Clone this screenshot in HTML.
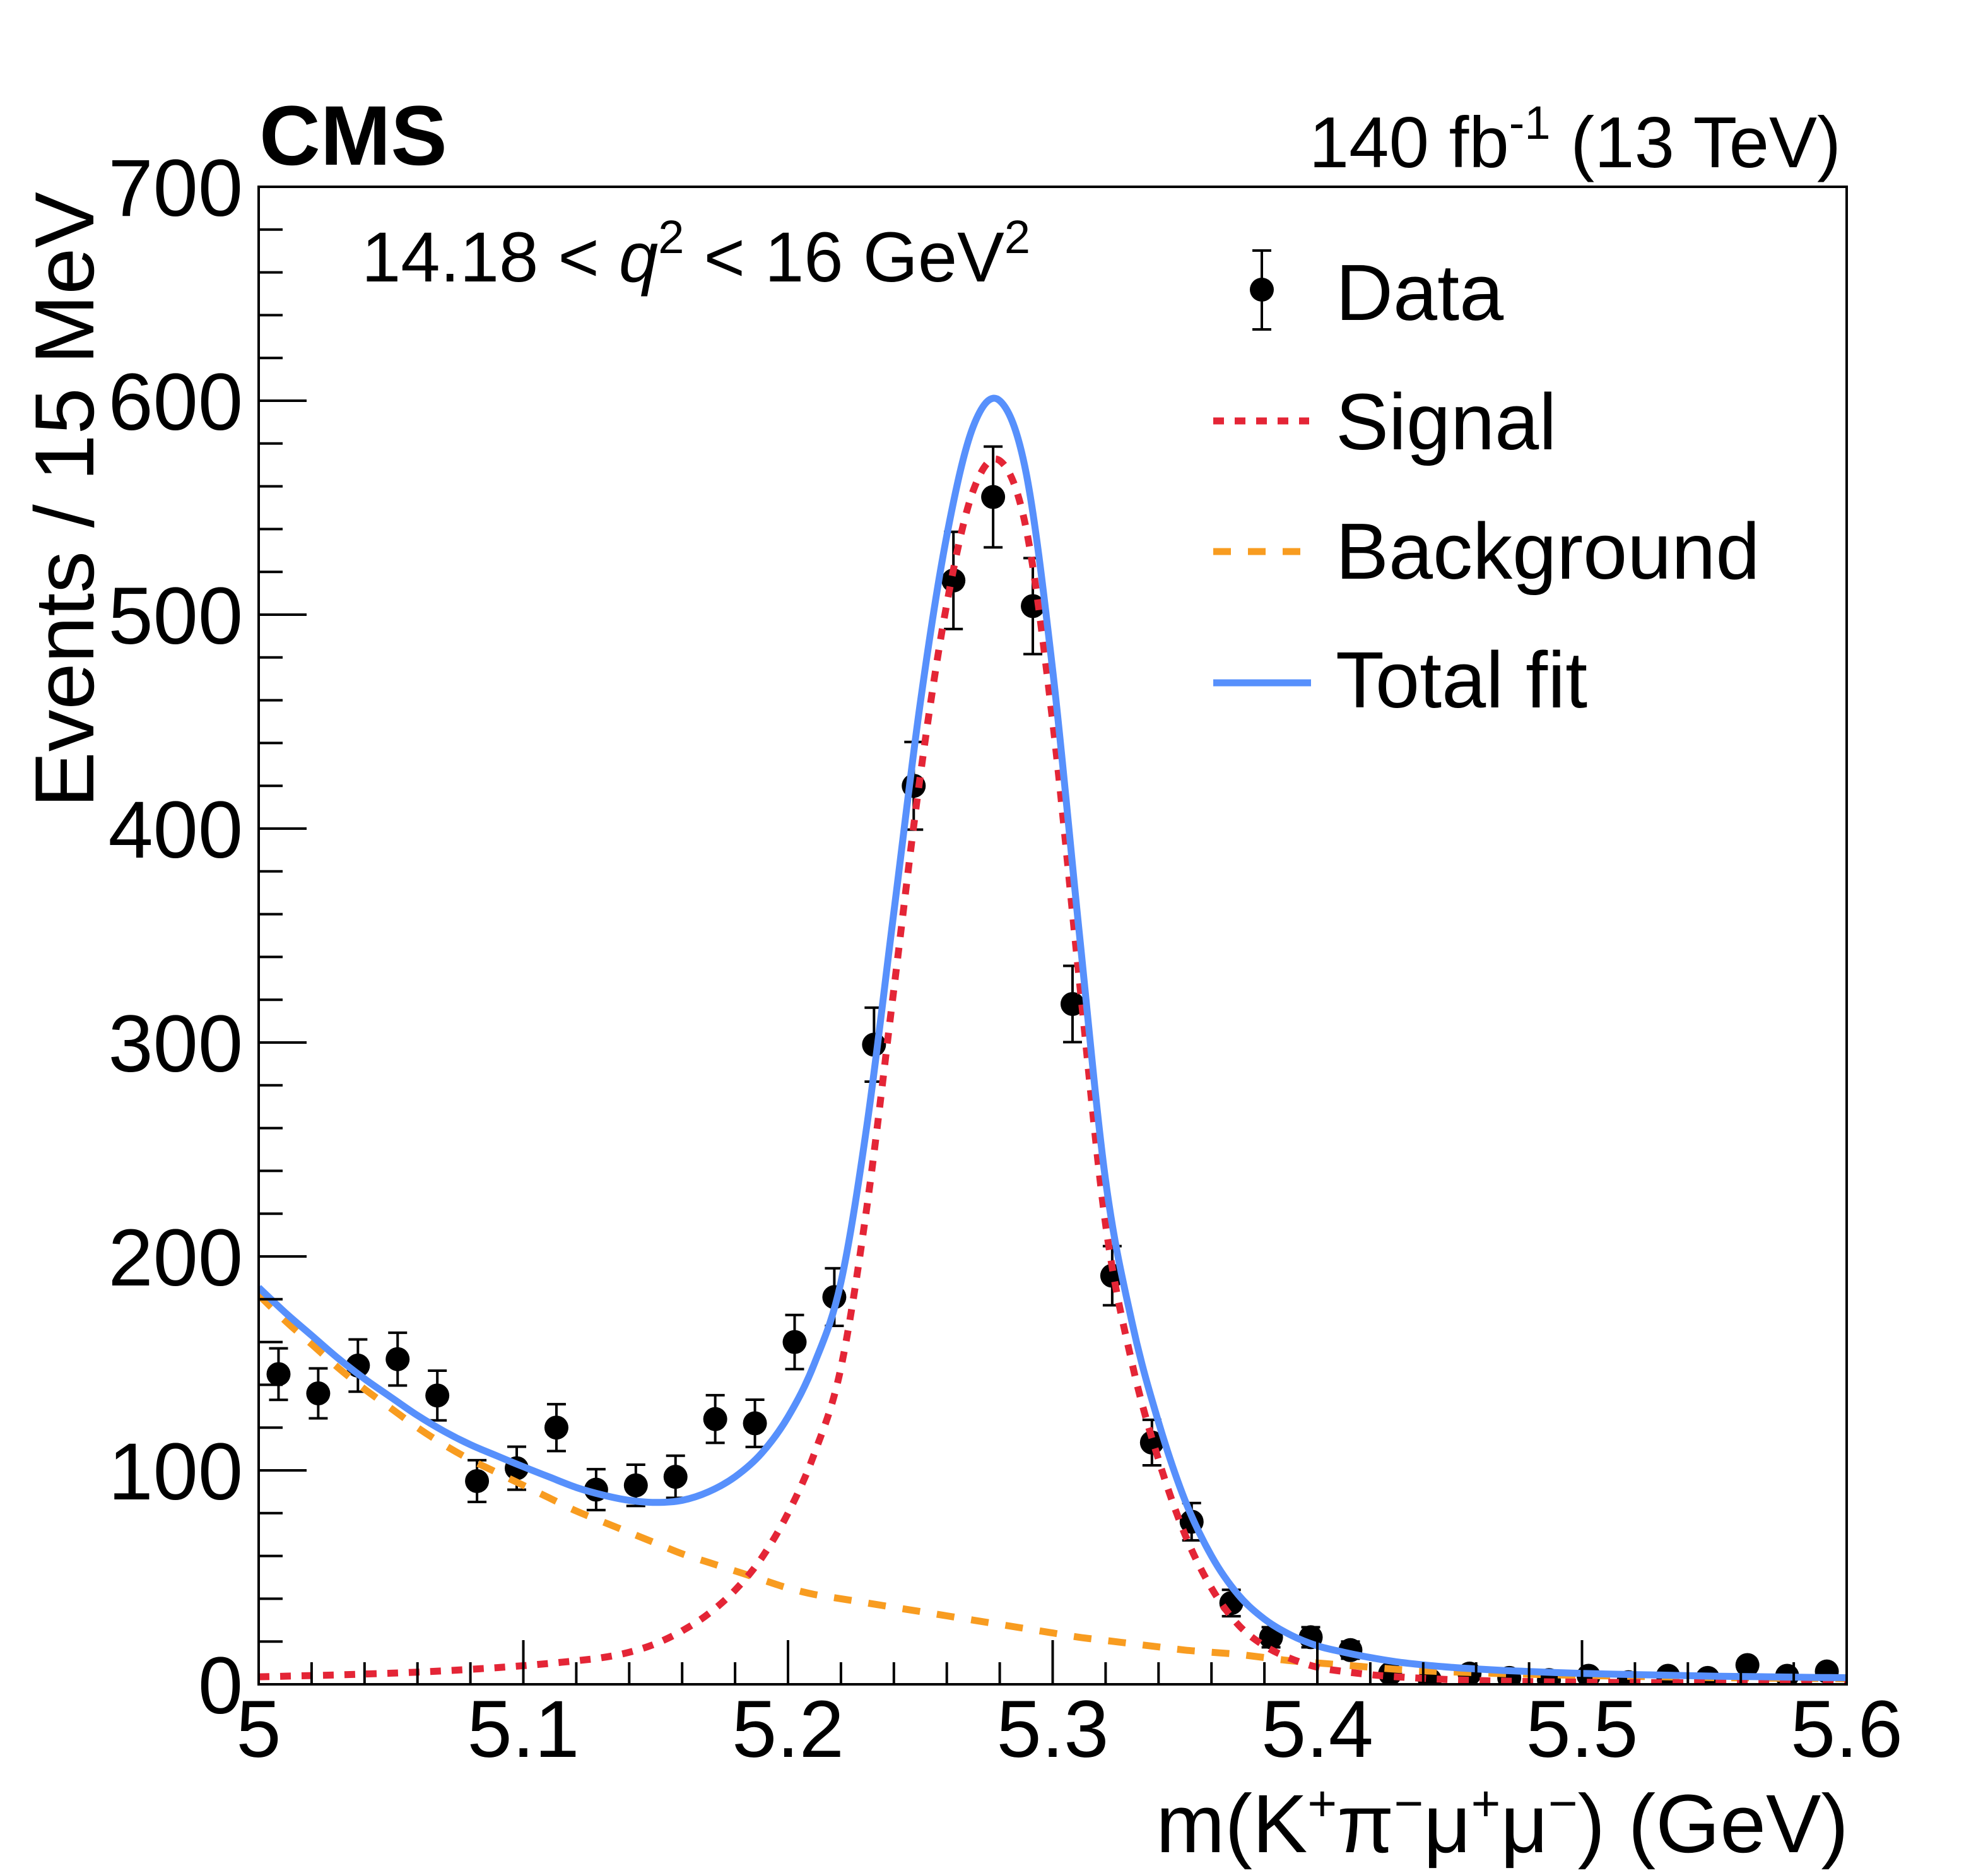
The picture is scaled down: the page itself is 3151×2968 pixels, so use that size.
<!DOCTYPE html>
<html><head><meta charset="utf-8"><style>
html,body{margin:0;padding:0;background:#fff}
svg{display:block;font-family:"Liberation Sans",sans-serif}
</style></head><body>
<svg id="chart" width="3151" height="2968" viewBox="0 0 3151 2968" xmlns="http://www.w3.org/2000/svg">
<rect x="0" y="0" width="3151" height="2968" fill="#fff"/>
<g id="marks"></g>
<rect x="410" y="296" width="2517" height="2373" fill="none" stroke="#000" stroke-width="4"/>
<g id="axes"></g>
<text x="411" y="261" font-size="134" font-weight="bold">CMS</text>
<text x="2918" y="265" font-size="114" text-anchor="end">140 fb<tspan dy="-45" font-size="74">-1</tspan><tspan dy="45"> (13 TeV)</tspan></text>
<text x="573" y="446" font-size="112">14.18 &lt; <tspan font-style="italic">q</tspan><tspan dy="-45" font-size="74">2</tspan><tspan dy="45"> &lt; 16 GeV</tspan><tspan dy="-45" font-size="74">2</tspan></text>
<text transform="translate(148,304) rotate(-90)" font-size="133" text-anchor="end">Events / 15 MeV</text>
<text x="2930" y="2935" font-size="131" text-anchor="end">m(K<tspan dy="-50" font-size="80">+</tspan><tspan dy="50">π</tspan><tspan dy="-50" font-size="80">−</tspan><tspan dy="50">μ</tspan><tspan dy="-50" font-size="80">+</tspan><tspan dy="50">μ</tspan><tspan dy="-50" font-size="80">−</tspan><tspan dy="50">) (GeV)</tspan></text>
<g>
  <line x1="2000" y1="397" x2="2000" y2="522" stroke="#000" stroke-width="4"/>
  <line x1="1985" y1="397" x2="2015" y2="397" stroke="#000" stroke-width="4"/>
  <line x1="1985" y1="522" x2="2015" y2="522" stroke="#000" stroke-width="4"/>
  <circle cx="2000" cy="459" r="19" fill="#000"/>
  <text x="2117" y="507" font-size="126">Data</text>
  <line x1="1923" y1="667" x2="2075" y2="667" stroke="#e42536" stroke-width="11" stroke-dasharray="17 17"/>
  <text x="2117" y="712" font-size="126">Signal</text>
  <line x1="1923" y1="874" x2="2065" y2="874" stroke="#f89c20" stroke-width="11" stroke-dasharray="28 27"/>
  <text x="2117" y="917" font-size="126">Background</text>
  <line x1="1923" y1="1082" x2="2078" y2="1082" stroke="#5790fc" stroke-width="11"/>
  <text x="2117" y="1121" font-size="126">Total fit</text>
</g>
</svg>
<script>
const binCenters = [5.0075,5.0225,5.0375,5.0525,5.0675,5.0825,5.0975,5.1125,5.1275,5.1425,5.1575,5.1725,5.1875,5.2025,5.2175,5.2325,5.2475,5.2625,5.2775,5.2925,5.3075,5.3225,5.3375,5.3525,5.3675,5.3825,5.3975,5.4125,5.4275,5.4425,5.4575,5.4725,5.4875,5.5025,5.5175,5.5325,5.5475,5.5625,5.5775,5.5925];
const dataCounts = [145,136,149,152,135,95,101,120,91,93,97,124,122,160,181,299,420,516,555,504,318,191,113,76,38,22,22,16,5,2,5,3,2,4,1,4,3,9,4,6];
// curves sampled at 5.00 .. 5.60 in 0.01 GeV steps
const curveStart = 5.00, curveStep = 0.01;
const backgroundVals = [182,170,159,148,138,129,120,112,105,99,93,87,81,76,71,66,61,57,53,49,45,42,40,38,36,34,32,30,28,26,24,22,20.5,19,17.5,16,15,14,12.5,11,10,9,8,7,6.3,5.8,5.4,5,4.7,4.4,4.1,3.9,3.7,3.5,3.3,3.1,3,2.9,2.8,2.7,2.6];
const signalVals = [3.5,3.8,4.1,4.4,4.8,5.2,5.7,6.3,7,7.8,8.7,9.8,11,12.5,15,19,25,33,44,59,80,108,148,225,325,425,505,558,572,540,450,330,215,150,105,70,45,28,18,12,8,6,4.5,3.5,2.8,2.2,1.8,1.5,1.3,1.1,1,0.9,0.85,0.8,0.75,0.7,0.65,0.6,0.55,0.5,0.5];
const yTicks = [0,100,200,300,400,500,600,700];
const xTicks = [5,5.1,5.2,5.3,5.4,5.5,5.6];
const xTickLabels = ["5","5.1","5.2","5.3","5.4","5.5","5.6"];

const X0=410,X1=2927,Y0=2669,Y1=296;
const xs = v => X0 + (v-5)/(0.6)*(X1-X0);
const ys = v => Y0 - v/700*(Y0-Y1);
const NS="http://www.w3.org/2000/svg";
const marks=document.getElementById('marks'), axes=document.getElementById('axes');
function mk(tag, attrs, parent){const e=document.createElementNS(NS,tag);for(const k in attrs)e.setAttribute(k,attrs[k]);parent.appendChild(e);return e;}

const defs=mk('defs',{},marks);
const cp=mk('clipPath',{id:'clip'},defs);
mk('rect',{x:X0,y:Y1,width:X1-X0,height:Y0-Y1},cp);

function smoothPath(yv){
  const p=yv.map((v,i)=>[xs(curveStart+i*curveStep),ys(v)]);
  let d='M'+p[0][0].toFixed(1)+','+p[0][1].toFixed(1);
  for(let i=0;i<p.length-1;i++){
    const a=p[Math.max(i-1,0)],b=p[i],c=p[i+1],e=p[Math.min(i+2,p.length-1)];
    const c1=[b[0]+(c[0]-a[0])/6,b[1]+(c[1]-a[1])/6], c2=[c[0]-(e[0]-b[0])/6,c[1]-(e[1]-b[1])/6];
    d+=' C'+c1.map(v=>v.toFixed(1))+' '+c2.map(v=>v.toFixed(1))+' '+c[0].toFixed(1)+','+c[1].toFixed(1);
  }
  return d;
}
const totalVals = backgroundVals.map((b,i)=>b+signalVals[i]);
const g=mk('g',{'clip-path':'url(#clip)'},marks);

binCenters.forEach((x,i)=>{
  const n=dataCounts[i], err=Math.sqrt(n);
  const cx=xs(x);
  const grp=mk('g',{},g);
  
  
  const top=ys(n+err), bot=ys(Math.max(n-err,0));
  mk('line',{x1:cx,y1:top,x2:cx,y2:bot,stroke:'#000','stroke-width':4},grp);
  mk('line',{x1:cx-15,y1:top,x2:cx+15,y2:top,stroke:'#000','stroke-width':4},grp);
  mk('line',{x1:cx-15,y1:bot,x2:cx+15,y2:bot,stroke:'#000','stroke-width':4},grp);
  mk('circle',{cx:cx,cy:ys(n),r:19,fill:'#000'},grp);
});

const bg=mk('path',{d:smoothPath(backgroundVals),fill:'none',stroke:'#f89c20','stroke-width':11,'stroke-dasharray':'28 27'},g);


const sg=mk('path',{d:smoothPath(signalVals),fill:'none',stroke:'#e42536','stroke-width':11,'stroke-dasharray':'17 17'},g);


const tt=mk('path',{d:smoothPath(totalVals),fill:'none',stroke:'#5790fc','stroke-width':11},g);



for(let v=0;v<=700;v+=20){
  const major=v%100===0, y=ys(v);
  const t=mk('line',{x1:X0,y1:y,x2:X0+(major?76:38),y2:y,stroke:'#000','stroke-width':4},axes);
  
  
}
yTicks.forEach(v=>{
  const t=mk('text',{x:385,y:ys(v)+46,'font-size':128,'text-anchor':'end'},axes);
  t.textContent=String(v);
  
  
});
for(let k=0;k<=30;k++){
  const v=5+k*0.02, major=k%5===0, x=xs(v);
  const t=mk('line',{x1:x,y1:Y0,x2:x,y2:Y0-(major?70:35),stroke:'#000','stroke-width':4},axes);
  
  
}
xTicks.forEach((v,i)=>{
  const t=mk('text',{x:xs(v),y:2784,'font-size':128,'text-anchor':'middle'},axes);
  t.textContent=xTickLabels[i];
  
  
});
</script>
</body></html>
